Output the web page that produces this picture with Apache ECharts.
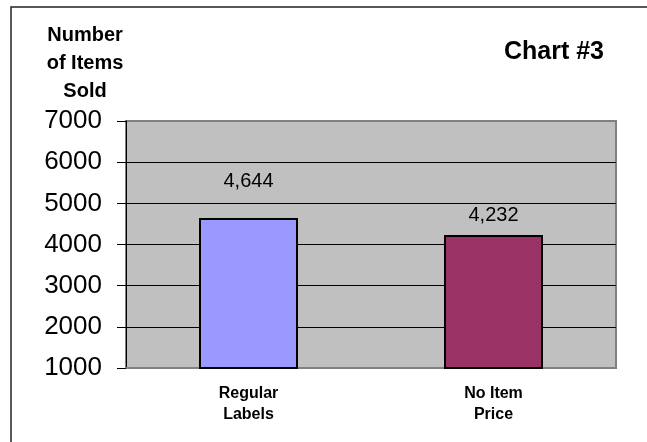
<!DOCTYPE html>
<html>
<head>
<meta charset="utf-8">
<script src="https://cdn.jsdelivr.net/npm/echarts@6/dist/echarts.min.js"></script>
<style>
  html, body { margin: 0; padding: 0; background: #fff; }
  #chart { width: 647px; height: 442px; }
</style>
</head>
<body>
<div id="chart"></div>
<script>
// Items sold per labelling condition
const categories = ['Regular\nLabels', 'No Item\nPrice'];
const itemsSold = [4644, 4232];
const barColors = ['#9999FF', '#993366'];
const labelGaps = [27, 9];

const FONT = '"Liberation Sans", Arial, sans-serif';

const chart = echarts.init(document.getElementById('chart'), null, { renderer: 'canvas' });

chart.setOption({
  animation: false,
  backgroundColor: '#ffffff',
  grid: {
    left: 126, top: 121, right: 31, bottom: 74,
    show: true,
    backgroundColor: '#C0C0C0',
    borderColor: '#808080',
    borderWidth: 2
  },
  xAxis: {
    type: 'category',
    data: categories,
    axisLine: { show: true, lineStyle: { color: '#808080', width: 2 } },
    axisTick: { show: false },
    axisLabel: {
      color: '#000',
      fontFamily: FONT,
      fontWeight: 'bold',
      fontSize: 16,
      lineHeight: 21,
      margin: 15
    }
  },
  yAxis: {
    type: 'value',
    min: 1000,
    max: 7000,
    interval: 1000,
    axisLine: { show: true, lineStyle: { color: '#000', width: 1 } },
    axisTick: { show: true, inside: false, length: 9, lineStyle: { color: '#000' } },
    axisLabel: {
      color: '#000',
      fontFamily: FONT,
      fontSize: 26,
      margin: 24,
      formatter: v => String(v)
    },
    splitLine: {
      show: true,
      lineStyle: { color: ['#808080', '#000', '#000', '#000', '#000', '#000', '#808080'], width: 1 }
    }
  },
  series: [{
    type: 'bar',
    barWidth: 99,
    data: itemsSold.map((v, i) => ({
      value: v,
      itemStyle: { color: barColors[i], borderColor: '#000', borderWidth: 2 },
      label: { distance: labelGaps[i] }
    })),
    label: {
      show: true,
      position: 'top',
      color: '#000',
      fontFamily: FONT,
      fontSize: 20,
      formatter: p => p.value.toLocaleString('en-US')
    }
  }],
  graphic: [
    {
      type: 'polyline',
      shape: { points: [[11, 442], [11, 7], [647, 7]] },
      style: { stroke: '#222', lineWidth: 1.5, fill: null },
      silent: true
    },
    {
      type: 'text',
      style: {
        x: 85, y: 21,
        text: 'Number\nof Items\nSold',
        font: 'bold 20px ' + FONT,
        fill: '#000',
        align: 'center',
        verticalAlign: 'top',
        lineHeight: 28
      }
    },
    {
      type: 'text',
      style: {
        x: 554, y: 52,
        text: 'Chart #3',
        font: 'bold 25px ' + FONT,
        fill: '#000',
        align: 'center',
        verticalAlign: 'middle'
      }
    }
  ]
});
</script>
</body>
</html>
